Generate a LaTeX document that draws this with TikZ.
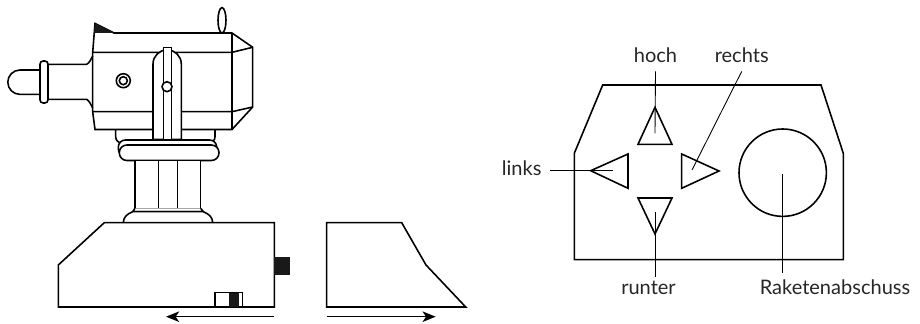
\documentclass[tikz,border=0pt]{standalone}
\usepackage{fontspec}
\setmainfont{Lato}
\tikzset{
	outline/.style={line width=0.9pt,line join=miter,fill=white},
	leader/.style={line width=0.5pt},
	caption/.style={font=\fontsize{11.4}{13}\selectfont,text=black!85,inner sep=4.5pt,anchor=base},
	travel/.style={line width=0.9pt,-{Stealth[length=7.5pt,width=6pt,inset=2pt]}}
}
\usetikzlibrary{arrows.meta}

\begin{document}
\begin{tikzpicture}[x=0.02cm,y=-0.02cm]
	\useasboundingbox (0,0) rectangle (920,324);
	
	%Drawing the saddle stack
	\draw[outline,rounded corners=3.5pt] (115.7,118) rectangle (215,143);
	\draw[outline,rounded corners=4pt] (118.3,140) rectangle (216.7,156);
	\draw[outline,rounded corners=4.3pt] (119.3,145) rectangle (219,160.5);
	
	%Drawing the antenna and the launcher
	\draw[outline] (222,20.3) ellipse (4 and 12.7);
	\draw[outline] (95,23.5)--(114,33)--(232,33)--(252.7,47.3)--(252.7,107)--(232,129.5)--(95,129.5)--(92.7,112)--(92.7,52.3)--cycle;
	\fill[black!90] (95,23.5)--(114,33)--(94,33)--cycle;
	\draw[outline,fill=none] (232,33)--(232,129.5);
	\draw[outline,fill=none] (92.7,52.3)--(232,52.3)--(252.7,47.3);
	\draw[outline,fill=none] (92.7,111.7)--(232,111.7)--(252.7,107);
	
	%Drawing the barrel
	\draw[outline] (40,70)--(20,70) arc (270:90:12.2)--(40,94.4);
	\draw[outline,rounded corners=1.8pt] (40,61) rectangle (48,103);
	\draw[outline,fill=none] (48,64.3)--(86.7,64.3) .. controls (89.5,63) and (91,59) .. (92.7,56);
	\draw[outline,fill=none] (48,99.3)--(86.7,99.3) .. controls (89.5,101) and (91,105) .. (92.7,108);
	\draw[outline] (123.3,80.7) circle (7);
	\draw[outline] (123.3,80.7) circle (4);
	
	%Drawing the yoke
	\draw[outline] (153,139.5)--(153,64) arc (180:360:14.15)--(181.3,139.5)--cycle;
	\draw[outline] (163.3,139.5)--(163.3,47.3)--(171.3,47.3)--(171.3,139.5);
	\draw[outline] (167,86.7) circle (5);
	
	%Drawing the column
	\draw[outline] (135,160.5) rectangle (200.7,208.3);
	\draw[outline,fill=none] (158.3,160.5)--(158.3,208.3);
	\draw[outline,fill=none] (177.3,160.5)--(177.3,208.3);
	\draw[outline] (135,208.3)--(132.7,211.7)--(203.3,211.7)--(200.7,208.3);
	\draw[outline] (123.3,222.7) .. controls (123.5,217) and (127,214) .. (132.7,211.7)--(203.3,211.7) .. controls (209,214) and (212.5,217) .. (212.7,222.7);
	
	%Drawing the two halves of the base
	\draw[outline] (104.3,222.7)--(274.3,222.7)--(274.3,307)--(58.3,307)--(58.3,265)--cycle;
	\fill[black!90] (274.3,257.3) rectangle (290,275.3);
	\draw[outline] (215,292.3) rectangle (242.7,307);
	\fill[black!90] (228.7,292.6) rectangle (239.3,306.7);
	\draw[outline] (326.7,222.7)--(401.7,222.7)--(426,265)--(465.7,307)--(326.7,307)--cycle;
	
	\coordinate (LS) at (274.3,316.7);
	\coordinate (LE) at (166,316.7);
	\coordinate (RS) at (326.7,316.7);
	\coordinate (RE) at (435.7,316.7);
	\draw[travel] (LS)--(LE);
	\draw[travel] (RS)--(RE);
	
	%Drawing the control panel
	\draw[outline] (602.7,85)--(821,85)--(843.3,153.3)--(843.3,259.7)--(574.3,259.7)--(574.3,153.3)--cycle;
	\draw[outline] (655,107.3)--(672,144.3)--(638,144.3)--cycle;
	\draw[outline] (590.7,170.7)--(628,154)--(628,188.3)--cycle;
	\draw[outline] (719,171)--(681.7,154)--(681.7,188.3)--cycle;
	\draw[outline] (655,234)--(638,198)--(672,198)--cycle;
	\draw[outline] (782.7,172.7) circle (43.7);
	
	\node[caption] (hoch) at (655.5,63) {hoch};
	\node[caption] (rechts) at (741.7,63) {rechts};
	\node[caption] (links) at (521.7,176) {links};
	\node[caption] (runter) at (648.5,295) {runter};
	\node[caption] (raketen) at (835,295) {Raketenabschuss};
	
	\coordinate (HT) at (655,133.3);
	\coordinate (RT) at (692,170);
	\coordinate (LT) at (613.3,170.7);
	\coordinate (UT) at (655,211.7);
	\coordinate (KT) at (782,174);
	\coordinate (US) at (655,276.7);
	\coordinate (KS) at (782,273.3);
	\coordinate (LL) at (550,170.7);
	
	\draw[leader] (hoch.south)--(HT);
	\draw[leader] (rechts.south)--(RT);
	\draw[leader] (LL)--(LT);
	\draw[leader] (US)--(UT);
	\draw[leader] (KS)--(KT);
	
\end{tikzpicture}
\end{document}
